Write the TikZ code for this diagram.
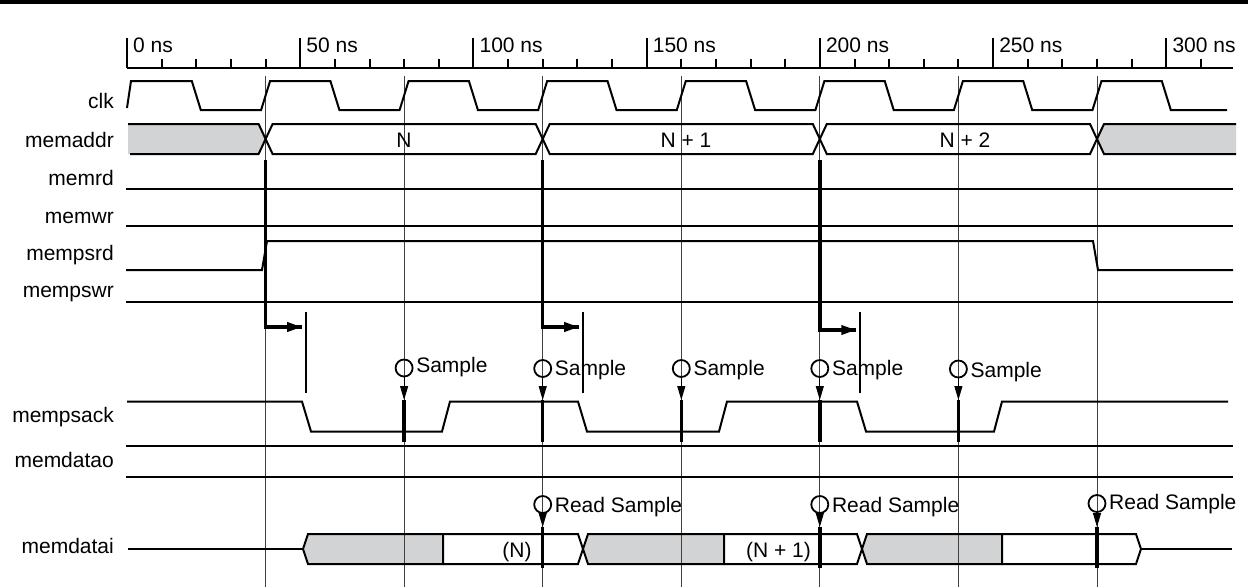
\documentclass[tikz,border=0pt]{standalone}
\usepackage{fontspec}
\setmainfont{Liberation Sans}
\usetikzlibrary{arrows.meta}
\definecolor{busgray}{HTML}{D1D3D4}
\begin{document}
\begin{tikzpicture}[x=1pt,y=-1pt,
  sig/.style={line width=2pt, line join=miter},
  guide/.style={line width=1pt, black!75},
  heavy/.style={line width=3.5pt},
  bar/.style={line width=2pt},
  fnt/.style={inner sep=0pt, font=\fontsize{21}{25}\selectfont},
  lbl/.style={fnt, anchor=base east},
  txt/.style={fnt, anchor=base west},
  ctxt/.style={fnt, anchor=base},
  smp/.style={circle, draw, line width=1.8pt, minimum size=17pt, inner sep=0pt},
  tip/.style={-{Triangle[length=14pt,width=8pt]}, line width=1pt}
]
\useasboundingbox (0,0) rectangle (1250,587);
% top rule
\fill (0,0) rectangle (1248,3.5);

% time axis
\draw[sig] (127,68) -- (1233,68);
\foreach \t in {0,10,...,310} {
  \pgfmathsetmacro\xx{127+3.4643*\t}
  \draw[sig] (\xx,59) -- (\xx,68);
}
\foreach \t/\n in {0/a0,50/a50,100/a100,150/a150,200/a200,250/a250,300/a300} {
  \pgfmathsetmacro\xx{127+3.4643*\t}
  \draw[sig] (\xx,38) -- (\xx,68);
  \node[txt] (\n) at (\xx+6,52) {\t\ ns};
}

% bus fills
\fill[busgray] (128,124) -- (258.6,124) -- (265.6,139) -- (258.6,154) -- (128,154) -- cycle;
\fill[busgray] (1097,139) -- (1104,124) -- (1236,124) -- (1236,154) -- (1104,154) -- cycle;
\fill[busgray] (303,549) -- (308,534) -- (443,534) -- (443,564) -- (308,564) -- cycle;
\fill[busgray] (583,549) -- (588,534) -- (724,534) -- (724,564) -- (588,564) -- cycle;
\fill[busgray] (862,549) -- (867,534) -- (1002,534) -- (1002,564) -- (867,564) -- cycle;

% guide lines
\foreach \x in {265.6,404.1,542.7,681.3,819.8,958.4,1097} {
  \draw[guide] (\x,76) -- (\x,587);
}

% signal names
\node[lbl] (lclk) at (114,108) {clk};
\node[lbl] (laddr) at (114,147) {memaddr};
\node[lbl] (lrd) at (114,185) {memrd};
\node[lbl] (lwr) at (114,223) {memwr};
\node[lbl] (lpsrd) at (114,260) {mempsrd};
\node[lbl] (lpswr) at (114,297) {mempswr};
\node[lbl] (lack) at (114,422) {mempsack};
\node[lbl] (ldo) at (114,467) {memdatao};
\node[lbl] (ldi) at (114,553) {memdatai};

% clk
\draw[sig] (127,108) -- (131,81) -- (191.8,81) -- (200.8,110) -- (261.1,110) -- (270.1,81)
  -- (330.4,81) -- (339.4,110) -- (399.6,110) -- (408.6,81) -- (468.9,81) -- (477.9,110)
  -- (538.2,110) -- (547.2,81) -- (607.5,81) -- (616.5,110) -- (676.8,110) -- (685.8,81)
  -- (746.1,81) -- (755.1,110) -- (815.4,110) -- (824.4,81) -- (884.7,81) -- (893.7,110)
  -- (953.9,110) -- (962.9,81) -- (1023.2,81) -- (1032.2,110) -- (1092.5,110) -- (1101.5,81)
  -- (1161.8,81) -- (1170.8,110) -- (1227,110);

% memaddr
\draw[sig] (128,124) -- (258.6,124) -- (265.6,139) -- (258.6,154) -- (130,154);
\draw[sig] (265.6,139) -- (272.6,124) -- (535.7,124) -- (542.7,139) -- (535.7,154) -- (272.6,154) -- cycle;
\draw[sig] (542.7,139) -- (549.7,124) -- (812.8,124) -- (819.8,139) -- (812.8,154) -- (549.7,154) -- cycle;
\draw[sig] (819.8,139) -- (826.8,124) -- (1090,124) -- (1097,139) -- (1090,154) -- (826.8,154) -- cycle;
\draw[sig] (1236,124) -- (1104,124) -- (1097,139) -- (1104,154) -- (1236,154);
\node[ctxt] (vN) at (404,147) {N};
\node[ctxt] (vN1) at (686,147) {N + 1};
\node[ctxt] (vN2) at (965,147) {N + 2};

% single lines
\draw[sig] (126,189) -- (1233,189);
\draw[sig] (126,226) -- (1233,226);
\draw[sig] (126,270) -- (262,270) -- (267,241) -- (1093,241) -- (1098,270) -- (1233,270);
\draw[sig] (126,302) -- (1233,302);

% mempsack
\draw[sig] (127,401.5) -- (302,401.5) -- (311,431.5) -- (442,431.5) -- (450,401.5)
  -- (578,401.5) -- (587,431.5) -- (719,431.5) -- (727,401.5) -- (857,401.5) -- (866,431.5)
  -- (994,431.5) -- (1002,401.5) -- (1228,401.5);

% memdatao
\draw[sig] (126,446) -- (1233,446);
\draw[sig] (126,477) -- (1233,477);

% memdatai
\draw[sig] (128,549) -- (303,549);
\draw[sig] (303,549) -- (308,534) -- (443,534) -- (443,564) -- (308,564) -- cycle;
\draw[sig] (443,534) -- (578,534) -- (583,549) -- (578,564) -- (443,564);
\draw[sig] (583,549) -- (588,534) -- (724,534) -- (724,564) -- (588,564) -- cycle;
\draw[sig] (724,534) -- (857,534) -- (862,549) -- (857,564) -- (724,564);
\draw[sig] (862,549) -- (867,534) -- (1002,534) -- (1002,564) -- (867,564) -- cycle;
\draw[sig] (1002,534) -- (1136,534) -- (1141,549) -- (1136,564) -- (1002,564);
\draw[sig] (1141,549) -- (1232,549);
\node[ctxt] (dN) at (517,557) {(N)};
\node[ctxt] (dN1) at (778.5,557) {(N + 1)};

% address-to-ack delay arrows
\foreach \x/\y/\n in {265.6/327/1,542.7/327/2,819.8/330/3} {
  \coordinate (ds\n) at (\x,160);
  \coordinate (dc\n) at (\x,\y);
  \coordinate (de\n) at (\x+36.5,\y);
  \draw[heavy, line join=miter] (ds\n) -- (dc\n) -- (de\n);
  \draw[-{Triangle[length=15pt,width=9pt]}, line width=3.5pt] (dc\n) -- (de\n);
  \draw[bar] (\x+40.5,312) -- (\x+40.5,393);
}

% sample markers on mempsack
\foreach \x/\cy/\by/\n in {404.1/368/372/1,542.7/368.5/375/2,681.3/368.5/375/3,819.8/368.5/375/4,958.4/369/377/5} {
  \node[smp] (s\n) at (\x,\cy) {};
  \coordinate (st\n) at (\x,400);
  \coordinate (sb\n) at (\x,442);
  \draw[tip] (s\n.south) -- (st\n);
  \draw[heavy] (st\n) -- (sb\n);
  \node[txt] (sl\n) at (\x+12,\by) {Sample};
}

% read sample markers on memdatai
\foreach \x/\cy/\by/\n in {542.7/504.5/512/1,819.8/504.5/512/2,1097/503.5/509/3} {
  \node[smp] (r\n) at (\x,\cy) {};
  \coordinate (rt\n) at (\x,527);
  \coordinate (rb\n) at (\x,568);
  \draw[tip] (r\n.south) -- (rt\n);
  \draw[heavy] (rt\n) -- (rb\n);
  \node[txt] (rl\n) at (\x+12,\by) {Read Sample};
}
\end{tikzpicture}
\end{document}
